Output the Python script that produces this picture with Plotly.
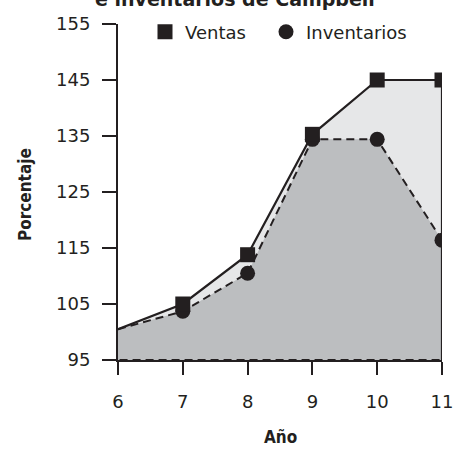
import plotly.graph_objects as go

# ---- data ----
years = [6, 7, 8, 9, 10, 11]
ventas = [100.5, 105.0, 113.8, 135.3, 145.0, 145.0]
inventarios = [100.5, 103.7, 110.5, 134.4, 134.4, 116.4]
base = 95
y_ticks = [95, 105, 115, 125, 135, 145, 155]
x_ticks = [6, 7, 8, 9, 10, 11]
title_text = "Ventas<br>e inventarios de Campbell"
x_title = "Año"
y_title = "Porcentaje"

ink = "#231f20"
light = "#e6e7e8"
dark = "#bcbec0"
font_main = "DejaVu Sans, Liberation Sans, Arial, sans-serif"
font_cond = "Liberation Sans Narrow, DejaVu Sans Condensed, Arial Narrow, sans-serif"

fig = go.Figure()

# Ventas filled polygon (no outline)
fig.add_trace(go.Scatter(
    x=years + [years[-1], years[0]], y=ventas + [base, base],
    mode="lines", fill="toself", fillcolor=light,
    line=dict(width=0, color=light), showlegend=False, hoverinfo="skip"))

# Inventarios filled polygon with dashed outline
fig.add_trace(go.Scatter(
    x=years + [years[-1], years[0]], y=inventarios + [base, base],
    mode="lines", fill="toself", fillcolor=dark,
    line=dict(width=2, color=ink, dash="8px,5px"), showlegend=False, hoverinfo="skip"))

# Ventas solid line including right edge
fig.add_trace(go.Scatter(
    x=years + [years[-1]], y=ventas + [base],
    mode="lines", line=dict(width=2.2, color=ink), showlegend=False, hoverinfo="skip"))

# markers
fig.add_trace(go.Scatter(
    x=years[1:], y=inventarios[1:], mode="markers", name="Inventarios",
    marker=dict(symbol="circle", size=15, color=ink), legend="legend2"))
fig.add_trace(go.Scatter(
    x=years[1:], y=ventas[1:], mode="markers", name="Ventas",
    marker=dict(symbol="square", size=15, color=ink), legend="legend"))

leg_common = dict(orientation="h", xanchor="left", y=(360 - 32) / 336, yanchor="middle",
                  font=dict(family=font_main, size=18, color=ink),
                  bgcolor="rgba(0,0,0,0)")

fig.update_layout(
    width=453, height=452,
    margin=dict(l=118, r=11, t=24, b=92),
    paper_bgcolor="white", plot_bgcolor="white",
    font=dict(family=font_main, size=18, color=ink),
    showlegend=True,
    legend=dict(x=(145 - 118) / 324, **leg_common),
    legend2=dict(x=(266 - 118) / 324, **leg_common),
    xaxis=dict(range=[6, 11], tickvals=x_ticks, ticks="outside", ticklen=13,
               tickwidth=2, tickcolor=ink, showline=True, linewidth=2, linecolor=ink,
               showgrid=False, zeroline=False, ticklabelstandoff=11,
               ticklabeloverflow="allow", automargin=False,
               tickfont=dict(family=font_main, size=18, color=ink)),
    yaxis=dict(range=[95, 155], tickvals=y_ticks, ticks="outside", ticklen=14,
               tickwidth=2, tickcolor=ink, showline=True, linewidth=2, linecolor=ink,
               showgrid=False, zeroline=False, ticklabelstandoff=8,
               ticklabeloverflow="allow", automargin=False,
               tickfont=dict(family=font_main, size=18, color=ink)),
    annotations=[
        dict(text="<b>" + title_text + "</b>", xref="paper", yref="paper",
             x=(235 - 118) / 324, y=(360 - 12) / 336, xanchor="center", yanchor="bottom",
             showarrow=False, font=dict(family=font_main, size=19, color=ink)),
        dict(text="<b>" + y_title + "</b>", xref="paper", yref="paper",
             x=(25 - 118) / 324, y=(360 - 195) / 336, xanchor="center", yanchor="middle",
             textangle=-90, showarrow=False, font=dict(family=font_cond, size=17, color=ink)),
        dict(text="<b>" + x_title + "</b>", xref="paper", yref="paper",
             x=(280 - 118) / 324, y=(360 - 437) / 336, xanchor="center", yanchor="middle",
             showarrow=False, font=dict(family=font_cond, size=17, color=ink)),
    ],
)

fig.write_html("out.html", config={"displayModeBar": False},
               post_script="document.body.style.margin='0';document.body.style.overflow='hidden';")
